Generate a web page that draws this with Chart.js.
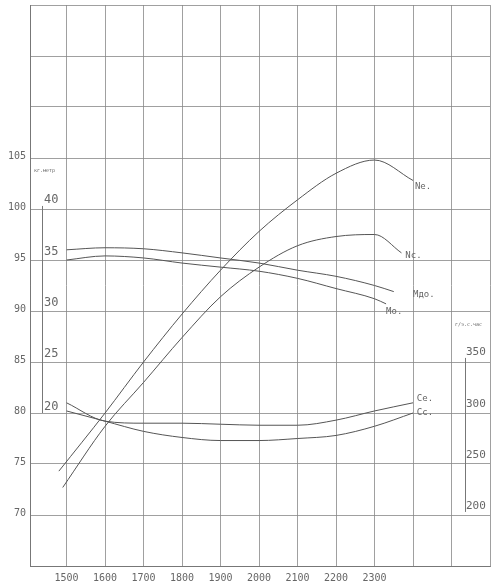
<!DOCTYPE html>
<html>
<head>
<meta charset="utf-8">
<script src="https://cdn.jsdelivr.net/npm/chart.js@4/dist/chart.umd.min.js"></script>
<style>
  body { margin: 0; background: #fff; }
  #wrap { width: 500px; height: 588px; }
</style>
</head>
<body>
<div id="wrap"><canvas id="grafico"></canvas></div>
<script>
// обороты
const xLabels = [1500, 1600, 1700, 1800, 1900, 2000, 2100, 2200, 2300]
const yLabels = [70, 75, 80, 85, 90, 95, 100, 105]
const mLabels = [[20, 80], [25, 85.2], [30, 90.2], [35, 95.2], [40, 100.3]]
const cLabels = [[200, 70.3], [250, 75.3], [300, 80.3], [350, 85.4]]

const ne = [[1480, 74.3], [1600, 80], [1700, 85], [1800, 89.7], [1900, 94], [2000, 97.8], [2100, 100.9], [2200, 103.5], [2300, 104.8], [2400, 102.8]]
const nc = [[1490, 72.7], [1600, 78.7], [1700, 83], [1800, 87.4], [1900, 91.4], [2000, 94.3], [2100, 96.4], [2200, 97.3], [2300, 97.5], [2370, 95.7]]
const mdo = [[1500, 96], [1600, 96.2], [1700, 96.1], [1800, 95.7], [1900, 95.2], [2000, 94.7], [2100, 94], [2200, 93.4], [2300, 92.5], [2350, 91.9]]
const mo = [[1500, 95], [1600, 95.4], [1700, 95.2], [1800, 94.7], [1900, 94.3], [2000, 93.9], [2100, 93.2], [2200, 92.2], [2300, 91.2], [2330, 90.7]]
const ce = [[1500, 81], [1600, 79.2], [1700, 79], [1800, 79], [1900, 78.9], [2000, 78.8], [2100, 78.8], [2200, 79.3], [2300, 80.2], [2400, 81]]
const cc = [[1500, 80.2], [1600, 79.2], [1700, 78.2], [1800, 77.6], [1900, 77.3], [2000, 77.3], [2100, 77.5], [2200, 77.8], [2300, 78.7], [2400, 80]]

const curveLabels = [['Nе.', 2405, 102.2], ['Nc.', 2380, 95.4], ['Mдо.', 2400, 91.6], ['Mо.', 2330, 89.9], ['Cе.', 2410, 81.4], ['Cс.', 2410, 80]]

const ink = '#666'
const font = '"DejaVu Sans Mono", monospace'

function serie(pts) {
    return {
        data: pts.map(p => ({ x: p[0], y: p[1] })),
        borderColor: '#555',
        borderWidth: 1,
        pointRadius: 0,
        cubicInterpolationMode: 'monotone',
        fill: false
    }
}

const textos = {
    id: 'textos',
    afterDraw(chart) {
        const ctx = chart.ctx
        const sx = chart.scales.x
        const sy = chart.scales.y
        const a = chart.chartArea
        ctx.save()
        ctx.fillStyle = ink
        ctx.strokeStyle = '#777'
        ctx.lineWidth = 1
        ctx.font = '10px ' + font
        ctx.textAlign = 'center'
        ctx.textBaseline = 'middle'
        xLabels.forEach(v => ctx.fillText(v, sx.getPixelForValue(v), a.bottom + 12))
        ctx.textAlign = 'right'
        yLabels.forEach(v => ctx.fillText(v, 26, sy.getPixelForValue(v) - 2))
        ctx.textAlign = 'left'
        ctx.font = '12px ' + font
        mLabels.forEach(m => ctx.fillText(m[0], 44, sy.getPixelForValue(m[1]) - 6))
        ctx.beginPath()
        ctx.moveTo(42.5, sy.getPixelForValue(100.3))
        ctx.lineTo(42.5, sy.getPixelForValue(80))
        ctx.stroke()
        ctx.font = '11px ' + font
        cLabels.forEach(c => ctx.fillText(c[0], 466, sy.getPixelForValue(c[1]) - 6))
        ctx.beginPath()
        ctx.moveTo(465.5, sy.getPixelForValue(85.4))
        ctx.lineTo(465.5, sy.getPixelForValue(70.3))
        ctx.stroke()
        ctx.font = '5px ' + font
        ctx.fillText('кг.метр', 34, sy.getPixelForValue(103.8))
        ctx.fillText('г/э.с.час', 455, sy.getPixelForValue(88.7))
        ctx.font = '9px ' + font
        curveLabels.forEach(l => ctx.fillText(l[0], sx.getPixelForValue(l[1]), sy.getPixelForValue(l[2])))
        ctx.restore()
    }
}

new Chart(document.getElementById('grafico'), {
    type: 'line',
    data: { datasets: [serie(ne), serie(nc), serie(mdo), serie(mo), serie(ce), serie(cc)] },
    options: {
        responsive: true,
        maintainAspectRatio: false,
        animation: false,
        layout: { padding: { left: 30, right: 10, top: 5, bottom: 22 } },
        plugins: { legend: { display: false }, tooltip: { enabled: false } },
        scales: {
            x: {
                type: 'linear', min: 1405, max: 2600,
                ticks: { display: false },
                afterBuildTicks: s => { s.ticks = [{ value: 1405 }]; for (let v = 1500; v <= 2500; v += 100) s.ticks.push({ value: v }); s.ticks.push({ value: 2600 }) },
                grid: { color: '#888', lineWidth: 0.8, drawTicks: false },
                border: { color: '#777' }
            },
            y: {
                min: 65, max: 120,
                ticks: { display: false },
                afterBuildTicks: s => { s.ticks = []; for (let v = 65; v <= 120; v += 5) s.ticks.push({ value: v }) },
                grid: { color: '#888', lineWidth: 0.8, drawTicks: false },
                border: { color: '#777' }
            }
        }
    },
    plugins: [textos]
})
</script>
</body>
</html>
